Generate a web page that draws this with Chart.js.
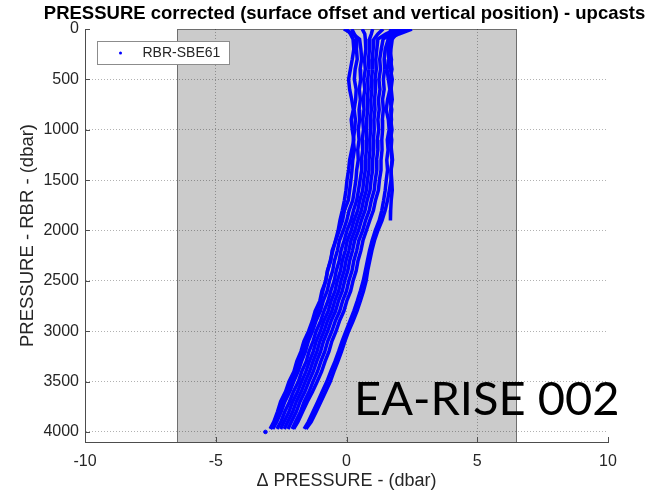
<!DOCTYPE html>
<html>
<head>
<meta charset="utf-8">
<script src="https://cdn.jsdelivr.net/npm/chart.js@4.4.1/dist/chart.umd.min.js"></script>
<style>
    html, body { margin: 0; padding: 0; background: #fff; }
    canvas { display: block; }
</style>
</head>
<body>
<canvas id="grafico" width="651" height="493"></canvas>
<script>
//Niveis de pressao (dbar) comuns a todos os perfis
const depths = [0, 50, 100, 200, 300, 400, 500, 600, 700, 800, 900, 1000, 1100, 1200, 1300, 1400,
    1500, 1600, 1700, 1800, 1900, 2000, 2100, 2200, 2300, 2400, 2500, 2600, 2700, 2800, 2900,
    3000, 3100, 3200, 3300, 3400, 3500, 3600, 3700, 3800, 3900, 3970];

//Delta pressao (dbar) de cada upcast
const cast01 = [0.2, 0.3, 0.4, 0.38, 0.41, 0.33, 0.30, 0.37, 0.35, 0.29, 0.34, 0.31, 0.26, 0.30, 0.24, 0.21,
    0.17, 0.12, 0.07, -0.08, -0.15, -0.28, -0.41, -0.55, -0.60, -0.73, -0.79, -0.94, -1.02, -1.20, -1.31,
    -1.45, -1.63, -1.74, -1.90, -2.01, -2.20, -2.33, -2.52, -2.64, -2.78, -2.92];
const cast02 = [-0.1, 0.25, 0.5, 0.55, 0.58, 0.52, 0.54, 0.49, 0.53, 0.48, 0.50, 0.45, 0.48, 0.43, 0.45, 0.39,
    0.36, 0.30, 0.24, 0.10, 0.01, -0.12, -0.27, -0.35, -0.46, -0.53, -0.65, -0.74, -0.89, -1.00, -1.17,
    -1.30, -1.46, -1.57, -1.72, -1.85, -2.02, -2.17, -2.36, -2.50, -2.67, -2.82];
const cast03 = [0.6, 0.7, 0.72, 0.74, 0.69, 0.72, 0.66, 0.70, 0.64, 0.67, 0.62, 0.65, 0.60, 0.62, 0.57, 0.58,
    0.52, 0.46, 0.39, 0.27, 0.17, 0.02, -0.09, -0.21, -0.28, -0.39, -0.47, -0.60, -0.71, -0.86, -0.99,
    -1.16, -1.28, -1.43, -1.54, -1.71, -1.84, -2.03, -2.18, -2.36, -2.51, -2.66];
const cast04 = [1.0, 0.95, 0.88, 0.88, 0.84, 0.86, 0.81, 0.83, 0.79, 0.81, 0.77, 0.78, 0.75, 0.76, 0.72, 0.72,
    0.66, 0.62, 0.51, 0.43, 0.29, 0.18, 0.03, -0.05, -0.16, -0.23, -0.35, -0.44, -0.59, -0.70, -0.87,
    -1.00, -1.16, -1.27, -1.42, -1.55, -1.72, -1.87, -2.06, -2.20, -2.39, -2.52];
const cast05 = [1.4, 1.2, 1.05, 1.02, 0.98, 1.00, 0.95, 0.97, 0.93, 0.95, 0.91, 0.92, 0.89, 0.90, 0.86, 0.86,
    0.80, 0.76, 0.65, 0.57, 0.43, 0.32, 0.17, 0.09, -0.02, -0.09, -0.21, -0.30, -0.45, -0.56, -0.73,
    -0.86, -1.02, -1.13, -1.28, -1.41, -1.58, -1.73, -1.92, -2.06, -2.25, -2.38];
const cast06 = [1.9, 1.5, 1.2, 1.16, 1.12, 1.14, 1.09, 1.11, 1.07, 1.09, 1.05, 1.06, 1.03, 1.04, 1.00, 1.00,
    0.94, 0.90, 0.79, 0.71, 0.57, 0.46, 0.31, 0.23, 0.12, 0.05, -0.07, -0.16, -0.31, -0.42, -0.59,
    -0.72, -0.88, -0.99, -1.14, -1.27, -1.44, -1.59, -1.78, -1.92, -2.11, -2.24];
const cast07 = [2.2, 1.7, 1.4, 1.33, 1.27, 1.30, 1.24, 1.28, 1.22, 1.25, 1.20, 1.23, 1.18, 1.20, 1.15, 1.16,
    1.10, 1.06, 0.95, 0.87, 0.73, 0.62, 0.47, 0.39, 0.28, 0.21, 0.09, 0.00, -0.15, -0.26, -0.43,
    -0.56, -0.72, -0.83, -0.98, -1.11, -1.28, -1.43, -1.62, -1.76, -1.95, -2.08];
const cast08 = [2.5, 2.0, 1.6, 1.48, 1.44, 1.46, 1.41, 1.44, 1.38, 1.41, 1.37, 1.38, 1.35, 1.36, 1.32, 1.32,
    1.26, 1.22, 1.11, 1.03, 0.89, 0.76, 0.63, 0.55, 0.44, 0.37, 0.25, 0.16, 0.01, -0.10, -0.27,
    -0.40, -0.56, -0.67, -0.82, -0.95, -1.12, -1.30, -1.50, -1.68, -1.86, -2.02];
const cast09 = [1.7, 1.65, 1.6, 1.58, 1.62, 1.55, 1.60, 1.66, 1.57, 1.52, 1.60, 1.63, 1.56, 1.59, 1.54, 1.57,
    1.52, 1.48, 1.42, 1.35, 1.25, 1.10, 0.98, 0.88, 0.80, 0.72, 0.64, 0.53, 0.41, 0.28, 0.13,
    -0.02, -0.17, -0.30, -0.44, -0.60, -0.75, -0.93, -1.10, -1.28, -1.46, -1.62];
const cast10 = [2.3, 1.9, 1.75, 1.70, 1.68, 1.74, 1.66, 1.71, 1.75, 1.69, 1.72, 1.67, 1.73, 1.70, 1.74, 1.71,
    1.70, 1.64, 1.57, 1.48, 1.36, 1.20, 1.07, 0.97, 0.89, 0.81, 0.75, 0.65, 0.53, 0.40, 0.25,
    0.08, -0.06, -0.19, -0.33, -0.48, -0.62, -0.80, -0.98, -1.16, -1.35, -1.55];
//este perfil termina perto de 1900 dbar
const cast11 = [2.0, 1.8, 1.7, 1.64, 1.72, 1.68, 1.75, 1.70, 1.66, 1.73, 1.69, 1.74, 1.68, 1.72, 1.76, 1.70,
    1.73, 1.75, 1.71, 1.69, 1.68];
const cast12 = [0.0, 0.15, 0.25, 0.28, 0.22, 0.15, 0.08, 0.12, 0.20, 0.26, 0.18, 0.22, 0.28, 0.20, 0.12, 0.08,
    0.02, -0.02, -0.08, -0.16, -0.25, -0.32, -0.42, -0.52, -0.62, -0.72, -0.80, -0.90, -1.00, -1.12, -1.25,
    -1.40, -1.55, -1.68, -1.82, -1.96, -2.10, -2.26, -2.42, -2.58, -2.74, -2.90];

//ponto isolado no fundo
const strayX = [-3.1];
const strayY = [4000];

//Eixos
const xTicks = [-10, -5, 0, 5, 10];
const yTicks = [0, 500, 1000, 1500, 2000, 2500, 3000, 3500, 4000];
const xRange = [-10, 10];
const yRange = [0, 4100];
//faixa cinza (dbar)
const boxRange = [-6.5, 6.5];

const serieNome = 'RBR-SBE61';
const tituloTexto = 'PRESSURE corrected (surface offset and vertical position) - upcasts';
const rotuloX = '\u0394 PRESSURE - (dbar)';
const rotuloY = 'PRESSURE - RBR - (dbar)';
const marcaTexto = 'EA-RISE 002';

const casts = [cast01, cast02, cast03, cast04, cast05, cast06, cast07, cast08, cast09, cast10, cast11, cast12];

const azul = '#0000ff';
const gridCor = 'rgba(0, 0, 0, 0.3)';
const eixoCor = '#4d4d4d';

const montaSerie = (valores) => valores.map((v, i) => ({ x: v, y: depths[i] }));

//Faixa cinza atras da grade
const fundoCinza = {
    id: 'fundoCinza',
    beforeDraw: (chart) => {
        const { ctx, scales: { x, y } } = chart;
        const x0 = Math.round(x.getPixelForValue(boxRange[0])) + 0.5;
        const x1 = Math.round(x.getPixelForValue(boxRange[1])) + 0.5;
        const y0 = Math.round(y.getPixelForValue(yRange[0])) + 0.5;
        const y1 = Math.round(y.getPixelForValue(yRange[1])) + 0.5;
        ctx.save();
        ctx.fillStyle = '#cbcbcb';
        ctx.fillRect(x0, y0, x1 - x0, y1 - y0);
        ctx.strokeStyle = '#6e6e6e';
        ctx.lineWidth = 1;
        ctx.strokeRect(x0, y0, x1 - x0, y1 - y0);
        ctx.restore();
    }
};

//Titulo, ticks para dentro, legenda e marca d'agua
const extras = {
    id: 'extras',
    afterDraw: (chart) => {
        const { ctx, chartArea: a, scales: { x, y } } = chart;
        ctx.save();

        //titulo (sem compressao de largura)
        ctx.fillStyle = '#000000';
        ctx.font = 'bold 18.5px "Liberation Sans", Arial, sans-serif';
        ctx.textAlign = 'center';
        ctx.textBaseline = 'alphabetic';
        ctx.fillText(tituloTexto, (a.left + a.right) / 2 - 2, 19);
        ctx.textAlign = 'left';

        ctx.strokeStyle = eixoCor;
        ctx.lineWidth = 1;
        ctx.beginPath();
        yTicks.forEach(v => {
            const py = Math.round(y.getPixelForValue(v)) + 0.5;
            ctx.moveTo(a.left, py);
            ctx.lineTo(a.left + 5, py);
        });
        xTicks.forEach(v => {
            const px = Math.round(x.getPixelForValue(v)) + 0.5;
            ctx.moveTo(px, a.bottom);
            ctx.lineTo(px, a.bottom - 5);
        });
        ctx.stroke();

        //legenda
        const lx = a.left + 12.5, ly = a.top + 12.5;
        ctx.fillStyle = '#ffffff';
        ctx.fillRect(lx, ly, 132, 23);
        ctx.strokeStyle = '#8c8c8c';
        ctx.strokeRect(lx, ly, 132, 23);
        ctx.fillStyle = azul;
        ctx.beginPath();
        ctx.arc(lx + 23, ly + 11.5, 1.5, 0, Math.PI * 2);
        ctx.fill();
        ctx.fillStyle = '#262626';
        ctx.font = '14px "Liberation Sans", Arial, sans-serif';
        ctx.textBaseline = 'middle';
        ctx.fillText(serieNome, lx + 45, ly + 12);

        //texto EA-RISE
        ctx.fillStyle = '#000000';
        ctx.font = '47px Lato, "Open Sans", sans-serif';
        ctx.textBaseline = 'alphabetic';
        ctx.fillText(marcaTexto, 354, 415);
        ctx.restore();
    }
};

const datasets = casts.map(c => ({
    label: serieNome,
    data: montaSerie(c),
    showLine: true,
    borderColor: azul,
    backgroundColor: azul,
    borderWidth: 3.5,
    pointRadius: 0,
    tension: 0
}));

datasets.push({
    label: serieNome,
    data: strayX.map((v, i) => ({ x: v, y: strayY[i] })),
    showLine: false,
    backgroundColor: azul,
    borderColor: azul,
    pointRadius: 1.8
});

Chart.defaults.font.family = '"Liberation Sans", Arial, Helvetica, sans-serif';
Chart.defaults.color = '#262626';

const grafico = new Chart(document.getElementById('grafico'), {
    type: 'scatter',
    data: { datasets },
    plugins: [fundoCinza, extras],
    options: {
        responsive: false,
        animation: false,
        events: [],
        layout: { padding: { left: 0, right: 43, top: 29, bottom: 0 } },
        plugins: {
            legend: { display: false },
            tooltip: { enabled: false },
            title: { display: false }
        },
        scales: {
            x: {
                type: 'linear',
                min: xRange[0],
                max: xRange[1],
                afterBuildTicks: (s) => { s.ticks = xTicks.map(v => ({ value: v })); },
                afterFit: (s) => { s.height = 51; },
                ticks: { font: { size: 16 }, padding: 10, maxRotation: 0, callback: (v) => String(v) },
                grid: {
                    drawTicks: false,
                    color: (c) => (c.tick && (c.tick.value === xRange[0] || c.tick.value === xRange[1])) ? 'rgba(0,0,0,0)' : gridCor
                },
                border: { display: true, color: eixoCor, dash: [1, 2] },
                title: { display: true, text: rotuloX, font: { size: 18 }, padding: { top: 0, bottom: 1 } }
            },
            y: {
                type: 'linear',
                reverse: true,
                min: yRange[0],
                max: yRange[1],
                afterBuildTicks: (s) => { s.ticks = yTicks.map(v => ({ value: v })); },
                afterFit: (s) => { s.width = 85; },
                ticks: { font: { size: 16 }, padding: 6, callback: (v) => String(v) },
                grid: {
                    drawTicks: false,
                    color: (c) => (c.tick && c.tick.value === yRange[0]) ? 'rgba(0,0,0,0)' : gridCor
                },
                border: { display: true, color: eixoCor, dash: [1, 2] },
                title: { display: true, text: rotuloY, font: { size: 18.5 }, padding: { top: 17, bottom: 0 } }
            }
        }
    }
});
</script>
</body>
</html>
